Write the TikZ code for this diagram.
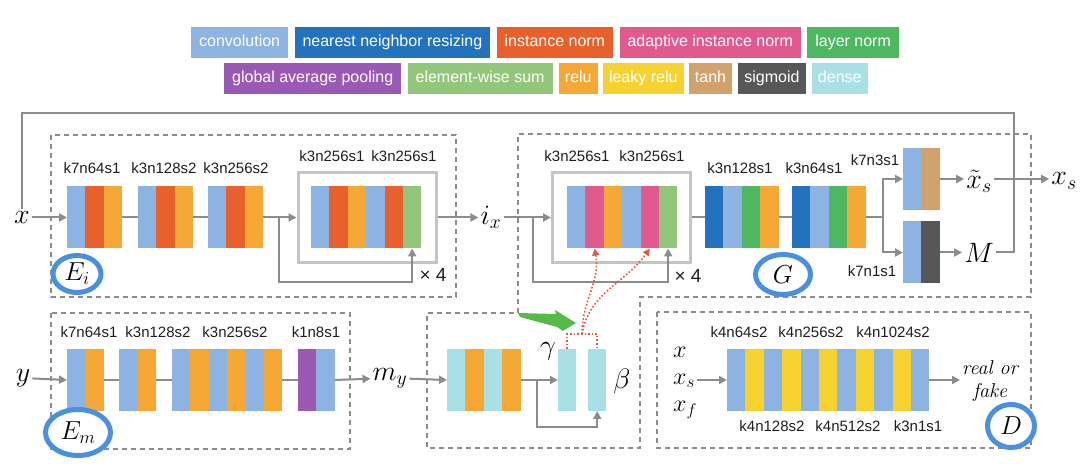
\documentclass[tikz,border=0pt]{standalone}
\usepackage{fix-cm}
\usepackage{fontspec}
\newfontfamily\sans{Liberation Sans}
\usetikzlibrary{positioning,arrows.meta,shapes.geometric}

\definecolor{cconv}{HTML}{8DB3E2}
\definecolor{cnn}{HTML}{2272BE}
\definecolor{cinst}{HTML}{E8602C}
\definecolor{cadain}{HTML}{E05A8E}
\definecolor{clnorm}{HTML}{4DB861}
\definecolor{cgap}{HTML}{9B59B6}
\definecolor{csum}{HTML}{92C77B}
\definecolor{crelu}{HTML}{F5A836}
\definecolor{cleaky}{HTML}{F6D230}
\definecolor{ctanh}{HTML}{D1A26E}
\definecolor{csigm}{HTML}{57575A}
\definecolor{cdense}{HTML}{A8E0E6}
\definecolor{cline}{HTML}{8C8C8C}
\definecolor{cres}{HTML}{C4C4C4}
\definecolor{ctag}{HTML}{4A90E2}
\definecolor{cred}{HTML}{E0584A}
\definecolor{cgreen}{HTML}{55BB46}
\definecolor{ctext}{HTML}{1E1E1E}

\tikzset{
  stripe/.style={minimum width=18.4pt, minimum height=62pt, inner sep=0pt, outer sep=0pt},
  legend/.style={text=white, font=\sans\fontsize{16}{16}\selectfont, minimum height=31pt,
    inner xsep=8pt, inner ysep=0pt, text height=11.5pt, text depth=3.5pt},
  small legend/.style={legend, inner xsep=6pt},
  lbl/.style={text=ctext, font=\sans\fontsize{15}{15}\selectfont, inner sep=1pt},
  var/.style={font=\fontsize{28}{28}\selectfont, inner sep=2pt},
  tag/.style={ellipse, draw=ctag, fill=white, line width=5pt, inner sep=0pt,
    font=\fontsize{26}{26}\selectfont},
  wire/.style={draw=cline, line width=2pt},
  conn/.style={wire, -{Triangle[length=8pt,width=8pt]}},
  dashbox/.style={draw=cline, line width=1.5pt, dash pattern=on 5pt off 4pt},
  resbox/.style={draw=cres, line width=3pt, minimum width=138pt, minimum height=90pt},
  pline/.style={draw=cred, line width=1.6pt, dotted},
  param/.style={pline, -{Triangle[length=7pt,width=7pt]}},
}

% one block of layers: name, west point of first stripe, colours
\newcommand{\layerblock}[3]{%
  \foreach \col [count=\i] in {#3}
    \node[stripe, fill=\col, anchor=west, xshift={(\i-1)*18.4pt}] (#1-\i) at (#2) {};
}

\begin{document}
\begin{tikzpicture}[x=1pt, y=-1pt]
  \useasboundingbox (0,0) rectangle (1080,470);

  %%% Legend %%%
  \node[legend, fill=cconv, anchor=west] (lconv) at (191,42.5) {convolution};
  \node[legend, fill=cnn, right=6pt of lconv] (lnn) {nearest neighbor resizing};
  \node[legend, fill=cinst, right=6pt of lnn] (linst) {instance norm};
  \node[legend, fill=cadain, right=6pt of linst] (ladain) {adaptive instance norm};
  \node[legend, fill=clnorm, right=6pt of ladain] (llnorm) {layer norm};

  \node[legend, fill=cgap, anchor=west] (lgap) at (224,79) {global average pooling};
  \node[legend, fill=csum, right=6pt of lgap] (lsum) {element-wise sum};
  \node[small legend, fill=crelu, right=6pt of lsum] (lrelu) {relu};
  \node[small legend, fill=cleaky, right=5pt of lrelu] (lleaky) {leaky relu};
  \node[small legend, fill=ctanh, right=5pt of lleaky] (ltanh) {tanh};
  \node[small legend, fill=csigm, right=6pt of ltanh] (lsigm) {sigmoid};
  \node[small legend, fill=cdense, right=6pt of lsigm] (ldense) {dense};

  %%% Boxes %%%
  \draw[dashbox] (51,135) rectangle (456,297);
  \draw[dashbox] (518,313) -- (518,134) -- (1031,134) -- (1031,297) -- (640,297)
    -- (640,448) -- (427,448) -- (427,313) -- cycle;
  \draw[dashbox] (51,313) rectangle (350,449);
  \draw[dashbox] (657,312) rectangle (1031,448);

  %%% E_i %%%
  \node[var] (x) at (22,217.5) {$x$};
  \layerblock{eia}{67,217.5}{cconv,cinst,crelu}
  \layerblock{eib}{138,217.5}{cconv,cinst,crelu}
  \layerblock{eic}{208,217.5}{cconv,cinst,crelu}
  \node[resbox] (eibox) at (367,217.5) {};
  \layerblock{eir}{311,217.5}{cconv,cinst,crelu,cconv,cinst,csum}
  \node[lbl] (teia) at (92,168.5) {k7n64s1};
  \node[lbl] (teib) at (164,168.5) {k3n128s2};
  \node[lbl] (teic) at (236,168.5) {k3n256s2};
  \node[lbl] (teir1) at (332,156.5) {k3n256s1};
  \node[lbl] (teir2) at (404,156.5) {k3n256s1};
  \node[lbl, font=\sans\fontsize{19}{19}\selectfont] (teirep) at (433,275) {× 4};
  \node[var] (ix) at (491,217.5) {$i_x$};

  \coordinate (eisplit) at (279,217.5);
  \coordinate (eiloop) at (279,282);
  \draw[conn] (x) -- (eia-1.west);
  \draw[wire] (eia-3.east) -- (eib-1.west);
  \draw[wire] (eib-3.east) -- (eic-1.west);
  \draw[conn] (eic-3.east) -- (eibox.west);
  \draw[conn] (eisplit) -- (eiloop) -| (eir-6.south);
  \draw[conn] (eibox.east) -- (ix);

  %%% G %%%
  \node[resbox] (gbox) at (621.5,217.5) {};
  \layerblock{gr}{567,217.5}{cconv,cadain,crelu,cconv,cadain,csum}
  \layerblock{ga}{705,217.5}{cnn,cconv,clnorm,crelu}
  \layerblock{gb}{792,217.5}{cnn,cconv,clnorm,crelu}
  \layerblock{gtop}{903,179}{cconv,ctanh}
  \layerblock{gbot}{903,252.5}{cconv,csigm}
  \node[lbl] (tgr1) at (577,156.5) {k3n256s1};
  \node[lbl] (tgr2) at (652,156.5) {k3n256s1};
  \node[lbl] (tga) at (740,168) {k3n128s1};
  \node[lbl] (tgb) at (814,168) {k3n64s1};
  \node[lbl] (tgtop) at (875,160) {k7n3s1};
  \node[lbl] (tgbot) at (872,271) {k7n1s1};
  \node[lbl, font=\sans\fontsize{19}{19}\selectfont] (tgrep) at (688,275.5) {× 4};
  \node[var] (xt) at (979,181) {$\tilde{x}_s$};
  \node[var] (xs) at (1064,181) {$x_s$};
  \node[var] (M) at (979,252.5) {$M$};

  \coordinate (gsplit) at (533,217.5);
  \coordinate (gloop) at (533,282);
  \coordinate (gfork) at (883,217.5);
  \coordinate (fbcorner) at (1014,113);
  \draw[conn] (ix) -- (gbox.west);
  \draw[conn] (gsplit) -- (gloop) -| (gr-6.south);
  \draw[wire] (gbox.east) -- (ga-1.west);
  \draw[wire] (ga-4.east) -- (gb-1.west);
  \draw[wire] (gb-4.east) -- (gfork);
  \draw[conn] (gfork) |- (gtop-1.west);
  \draw[conn] (gfork) |- (gbot-1.west);
  \draw[conn] (gtop-2.east) -- (gtop-2.east -| xt.west);
  \draw[conn] (xt.east |- gtop-2.east) -- (xs.west |- gtop-2.east);
  \draw[conn] (gbot-2.east) -- (M);
  \draw[wire] (x) |- (fbcorner) |- (M);

  %%% E_m %%%
  \node[var] (y) at (23,378) {$y$};
  \layerblock{ema}{67,380}{cconv,crelu}
  \layerblock{emb}{119,380}{cconv,crelu}
  \layerblock{emc}{172,380}{cconv,crelu,cconv,crelu,cconv,crelu}
  \layerblock{emd}{298,380}{cgap,cconv}
  \node[lbl] (tema) at (89,332) {k7n64s1};
  \node[lbl] (temb) at (158,332) {k3n128s2};
  \node[lbl] (temc) at (235,332) {k3n256s2};
  \node[lbl] (temd) at (316,332) {k1n8s1};
  \node[var] (my) at (390,378) {$m_y$};

  \draw[conn] (y) -- (ema-1.west);
  \draw[wire] (ema-2.east) -- (emb-1.west);
  \draw[wire] (emb-2.east) -- (emc-1.west);
  \draw[wire] (emc-6.east) -- (emd-1.west);
  \draw[conn] (emd-2.east) -- (my);

  %%% AdaIN parameters %%%
  \layerblock{mlp}{447,380}{cdense,crelu,cdense,crelu}
  \layerblock{gam}{558,380}{cdense}
  \layerblock{bet}{588,380}{cdense}
  \node[var] (gamma) at (548,351) {$\gamma$};
  \node[var] (beta) at (622,382) {$\beta$};

  \coordinate (msplit) at (537,380);
  \coordinate (mloop) at (537,427);
  \coordinate (rjoin) at (582,334);
  \draw[conn] (my) -- (mlp-1.west);
  \draw[conn] (mlp-4.east) -- (gam-1.west);
  \draw[conn] (msplit) -- (mloop) -| (bet-1.south);
  \draw[pline] (gam-1.north) |- (rjoin) -| (bet-1.north);
  \draw[param] (rjoin) to[out=90,in=-80] (gr-2.south);
  \draw[param] (rjoin) to[out=80,in=-125] (gr-5.south);
  \fill[cgreen] (518,313) -- (556,314) -- (555,310) -- (576,323) -- (563,331)
    -- (557,327) -- (520,317) -- cycle;

  %%% D %%%
  \node[var, font=\fontsize{24}{24}\selectfont, anchor=west] (dx) at (671,352) {$x$};
  \node[var, font=\fontsize{24}{24}\selectfont, anchor=west] (dxs) at (671,381) {$x_s$};
  \node[var, font=\fontsize{24}{24}\selectfont, anchor=west] (dxf) at (671,410) {$x_f$};
  \layerblock{dis}{727,380}{cconv,cleaky,cconv,cleaky,cconv,cleaky,cconv,cleaky,cconv,cleaky,cconv}
  \node[lbl] (tdis1) at (739,332.5) {k4n64s2};
  \node[lbl] (tdis3) at (811,332.5) {k4n256s2};
  \node[lbl] (tdis5) at (893,332.5) {k4n1024s2};
  \node[lbl] (tdis2) at (772,426.5) {k4n128s2};
  \node[lbl] (tdis4) at (848,426.5) {k4n512s2};
  \node[lbl] (tdis6) at (918,426.5) {k3n1s1};
  \node[font=\itshape\fontsize{20}{23}\selectfont, align=center, inner sep=2pt] (rf)
    at (990,381) {real or\\fake};

  \draw[conn] (dxs.east |- dis-1.west) -- (dis-1.west);
  \draw[conn] (dis-11.east) -- (rf.west |- dis-11.east);

  %%% Tags %%%
  \node[tag, minimum width=48pt, minimum height=37pt] (tei) at (77,274) {$E_i$};
  \node[tag, minimum width=65pt, minimum height=46pt] (tem) at (78,432.5) {$E_m$};
  \node[tag, minimum width=55pt, minimum height=40pt] (tg) at (783,274.5) {$G$};
  \node[tag, minimum width=47pt, minimum height=43pt] (td) at (1011,426) {$D$};
\end{tikzpicture}
\end{document}
